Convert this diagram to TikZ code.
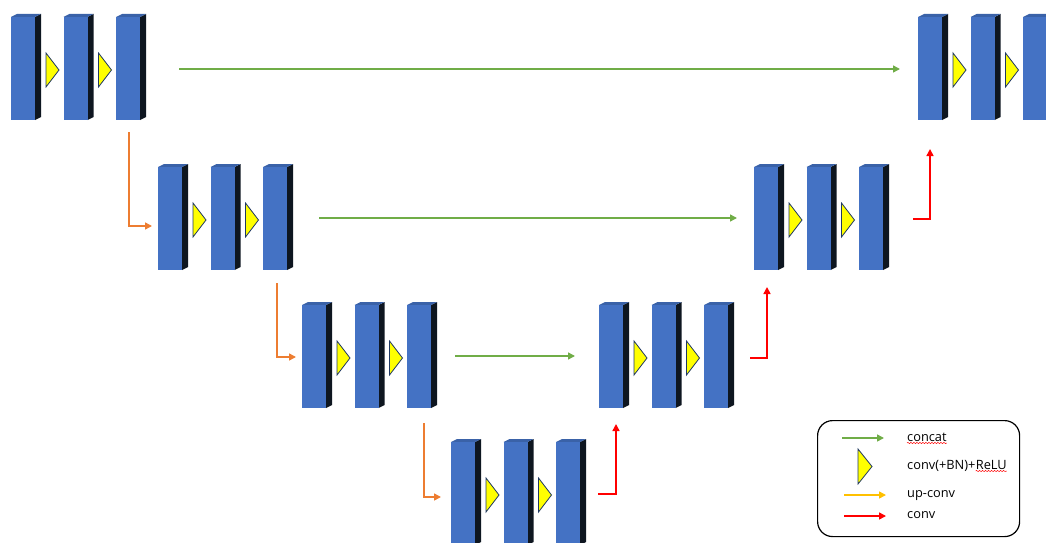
\documentclass[tikz,border=0pt]{standalone}
\usepackage{fontspec}
\setmainfont{Open Sans}
\usetikzlibrary{arrows.meta,decorations.pathmorphing}
\definecolor{bfront}{HTML}{4472C4}
\definecolor{bside}{HTML}{0E1620}
\definecolor{btop}{HTML}{3A62A8}
\definecolor{trifill}{HTML}{FFFF00}
\definecolor{triedge}{HTML}{1F3864}
\definecolor{cgreen}{HTML}{70AD47}
\definecolor{corange}{HTML}{ED7D31}
\definecolor{cred}{HTML}{FF0000}
\definecolor{cyell}{HTML}{FFC000}
\tikzset{
  flow/.style={line width=1.5pt,-{Triangle[length=7pt,width=7pt]}},
  concatarr/.style={flow,draw=cgreen},
  downarr/.style={flow,draw=corange},
  uparr/.style={flow,draw=cred},
  upconvarr/.style={flow,draw=cyell},
  frontface/.style={fill=bfront,draw=none,minimum width=24pt,minimum height=103pt,inner sep=0pt,outer sep=0pt,anchor=north west},
  convtri/.style={fill=trifill,draw=triedge,line width=0.8pt,line join=miter},
  legtext/.style={anchor=base west,inner sep=0pt,font=\fontsize{12.8}{15}\selectfont},
  squiggle/.style={draw=cred,line width=0.5pt,decorate,decoration={snake,amplitude=0.6pt,segment length=3pt}},
  pics/ugroup/.style={code={
    \foreach \i/\dx in {1/0,2/52.5,3/105}{
      \fill[bside] (\dx+24,0) -- (\dx+30,-3) -- (\dx+30,100) -- (\dx+24,103) -- cycle;
      \fill[btop] (\dx,0) -- (\dx+6,-3) -- (\dx+30,-3) -- (\dx+24,0) -- cycle;
      \node[frontface] (-b\i) at (\dx,0) {};
    }
    \draw[convtri] (35,36) -- (48,53) -- (35,70) -- cycle;
    \draw[convtri] (87.5,36) -- (100.5,53) -- (87.5,70) -- cycle;
  }}
}
\begin{document}
\begin{tikzpicture}[x=1pt,y=-1pt]
\useasboundingbox (0,0) rectangle (1046,543);

% block groups
\pic (g1) at (11,17) {ugroup};
\pic (g2) at (158,167) {ugroup};
\pic (g3) at (302,305) {ugroup};
\pic (g4) at (451,442) {ugroup};
\pic (g5) at (599,305) {ugroup};
\pic (g6) at (754,167) {ugroup};
\pic (g7) at (918,17) {ugroup};

% concat arrows
\coordinate (c1s) at (179,69);  \coordinate (c1e) at (900,69);
\coordinate (c2s) at (319,218); \coordinate (c2e) at (737,218);
\coordinate (c3s) at (455,356); \coordinate (c3e) at (575,356);
\draw[concatarr] (c1s) -- (c1e);
\draw[concatarr] (c2s) -- (c2e);
\draw[concatarr] (c3s) -- (c3e);

% down arrows
\coordinate (d1s) at (129,132); \coordinate (d1e) at (152,226);
\coordinate (d2s) at (277,283); \coordinate (d2e) at (296,357);
\coordinate (d3s) at (424,423); \coordinate (d3e) at (441,497);
\draw[downarr] (d1s) |- (d1e);
\draw[downarr] (d2s) |- (d2e);
\draw[downarr] (d3s) |- (d3e);

% up arrows
\coordinate (u1s) at (598,494); \coordinate (u1e) at (616,424);
\coordinate (u2s) at (750,358); \coordinate (u2e) at (767,287);
\coordinate (u3s) at (913,219); \coordinate (u3e) at (930,149);
\draw[uparr] (u1s) -| (u1e);
\draw[uparr] (u2s) -| (u2e);
\draw[uparr] (u3s) -| (u3e);

% legend
\node[draw=black,line width=1.2pt,rounded corners=15pt,minimum width=202pt,minimum height=116pt,anchor=north west,inner sep=0pt] (legend) at (817,420) {};
\coordinate (l1s) at (842,438); \coordinate (l1e) at (884,438);
\coordinate (l3s) at (844,495); \coordinate (l3e) at (886,495);
\coordinate (l4s) at (844,516); \coordinate (l4e) at (886,516);
\draw[concatarr] (l1s) -- (l1e);
\draw[convtri] (858,449) -- (872,466.5) -- (858,484) -- cycle;
\draw[upconvarr] (l3s) -- (l3e);
\draw[uparr] (l4s) -- (l4e);
\node[legtext] (tconcat) at (907,441) {concat};
\node[legtext] (tconv) at (907,469) {conv(+BN)+};
\node[legtext] (trelu) at (tconv.base east) {ReLU};
\node[legtext] (tupconv) at (907,497) {up-conv};
\node[legtext] (tconvonly) at (907,518) {conv};
\draw[squiggle] ([yshift=-2pt]tconcat.base west) -- ([yshift=-2pt]tconcat.base east);
\draw[squiggle] ([yshift=-2pt]trelu.base west) -- ([yshift=-2pt]trelu.base east);
\end{tikzpicture}
\end{document}
